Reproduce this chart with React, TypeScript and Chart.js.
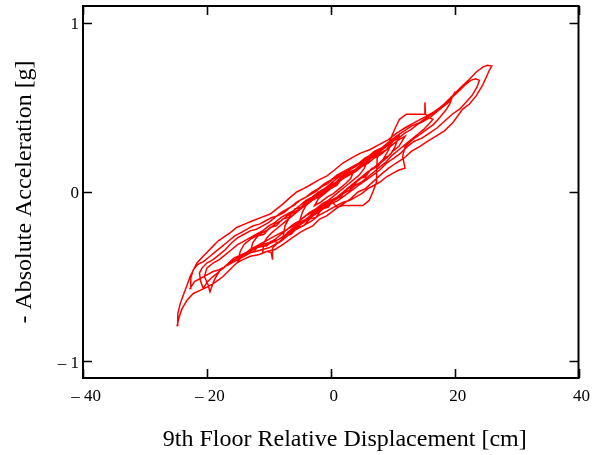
import React, { useEffect, useRef } from "react";
import { Chart, registerables } from "chart.js";

Chart.register(...registerables);

// Tick values
const xTickValues = [-40, -20, 0, 20, 40];
const yTickValues = [-1, 0, 1];

// Hysteresis path, [displacement cm, -absolute acceleration g], half-cycle by half-cycle
const segA: [number, number][] = [
  [0, 0.03], [1.2, 0.07], [2.3, 0.1], [3.5, 0.15], [4.6, 0.17], [5.8, 0.2], [7, 0.24], [8.2, 0.26],
  [9.5, 0.3], [10.6, 0.33], [11.8, 0.36], [13, 0.39], [14.3, 0.41], [15.5, 0.44], [17, 0.48], [18.3, 0.52],
  [19.7, 0.57], [21, 0.62], [22.2, 0.66], [23.5, 0.71], [24.6, 0.74], [25.3, 0.75], [26, 0.745],
];
const segB: [number, number][] = [
  [25.6, 0.72], [25, 0.67], [24.5, 0.63], [23.5, 0.57], [22.4, 0.52], [21.3, 0.49], [19.7, 0.41],
  [18.3, 0.36], [17, 0.33], [15.6, 0.3], [14.4, 0.27], [13, 0.24], [11.8, 0.2], [10.5, 0.17], [9.3, 0.14],
  [8, 0.1], [6.8, 0.06], [5.6, 0.02], [4.4, 0.0], [3.2, -0.04], [2, -0.07], [0.8, -0.1], [-0.6, -0.14],
  [-1.8, -0.16], [-2.9, -0.2], [-4, -0.22], [-5, -0.24], [-6.2, -0.27], [-7.7, -0.31], [-9, -0.34],
  [-10.2, -0.35], [-11.5, -0.37], [-13, -0.38], [-14.2, -0.4], [-15.2, -0.42], [-16.3, -0.46],
  [-17.4, -0.5], [-18.5, -0.53], [-19.8, -0.56], [-21, -0.58], [-22.2, -0.6], [-23.2, -0.64],
  [-24, -0.69], [-24.4, -0.73], [-24.8, -0.79],
];
const segC: [number, number][] = [
  [-24.7, -0.72], [-24.3, -0.66], [-23.9, -0.62], [-23.3, -0.56], [-22.7, -0.5], [-21.6, -0.42],
  [-20.6, -0.38], [-19.8, -0.35], [-19, -0.32], [-18.2, -0.29], [-17.4, -0.27], [-16.2, -0.24],
  [-15.2, -0.21], [-13.9, -0.19], [-12.6, -0.17], [-11.2, -0.15], [-9.8, -0.13], [-8.7, -0.1],
  [-7.7, -0.07], [-6.5, -0.03], [-5.5, 0.0], [-4.4, 0.02], [-3.4, 0.04], [-2, 0.07], [-0.6, 0.095],
  [0.6, 0.13], [1.9, 0.17], [3.3, 0.2], [4.8, 0.23], [6.3, 0.25], [7.8, 0.28], [9.3, 0.31], [10.7, 0.35],
  [12, 0.38], [13.5, 0.41], [15, 0.44], [16.5, 0.47], [18, 0.51], [19.3, 0.55], [20.5, 0.59],
  [21.6, 0.63], [22.6, 0.66], [23.4, 0.67], [24, 0.66],
];
const segD: [number, number][] = [
  [23.6, 0.62], [22.8, 0.57], [21.8, 0.53], [20.8, 0.49], [19.6, 0.46], [18.4, 0.42], [17.2, 0.38],
  [16, 0.35], [14.8, 0.32], [13.5, 0.3], [12.4, 0.27], [11.3, 0.23], [10.2, 0.2], [9, 0.17], [7.9, 0.13],
  [6.8, 0.1], [5.7, 0.07], [4.5, 0.04], [3.4, 0.01], [2.3, -0.02], [1.2, -0.05], [0, -0.07], [-1.2, -0.1],
  [-2.4, -0.13], [-3.6, -0.16], [-4.8, -0.19], [-6, -0.22], [-7.2, -0.25], [-8.4, -0.28], [-9.6, -0.3],
  [-10.8, -0.32], [-12, -0.33], [-13.2, -0.35], [-14.4, -0.37], [-15.6, -0.39], [-16.8, -0.43],
  [-18, -0.47], [-19, -0.5], [-19.9, -0.53], [-20.6, -0.57],
];
const segE: [number, number][] = [
  [-21, -0.53], [-21.2, -0.48], [-20.8, -0.45], [-20, -0.42], [-19, -0.4], [-18, -0.37], [-17, -0.34],
  [-16, -0.3], [-15, -0.27], [-14, -0.25], [-13, -0.23], [-12, -0.22], [-11, -0.2], [-10, -0.18],
  [-9, -0.15], [-8, -0.12], [-7, -0.1], [-6, -0.08], [-5, -0.05], [-4, -0.03], [-3, 0.0], [-2, 0.02],
  [-1, 0.05], [0, 0.07], [1, 0.1], [2, 0.12], [3, 0.14], [4, 0.16], [5, 0.18], [6, 0.2], [7, 0.22],
  [8, 0.24], [9, 0.27], [10, 0.3], [11, 0.32], [12, 0.35], [13, 0.37], [14, 0.4], [15, 0.42], [16, 0.44],
  [17, 0.47], [18, 0.5], [19, 0.53], [19.7, 0.57],
];
const segF: [number, number][] = [
  [19.2, 0.52], [18.5, 0.48], [17.6, 0.44], [16.6, 0.4], [15.5, 0.37], [14.4, 0.34], [13.2, 0.31],
  [12, 0.27], [11.6, 0.21], [12, 0.14], [11, 0.13], [10, 0.11], [9, 0.09], [8, 0.06], [7, 0.04], [6, 0.02],
  [5, -0.01], [4, -0.03], [3, -0.05], [2, -0.06], [1, -0.08], [0, -0.1], [-1, -0.12], [-2, -0.14],
  [-3, -0.17], [-4, -0.19], [-5, -0.21], [-6, -0.23], [-7, -0.26], [-8, -0.29], [-9, -0.31], [-10, -0.33],
  [-11, -0.34], [-12, -0.35], [-13, -0.36], [-14, -0.38], [-15, -0.4], [-16, -0.42], [-17, -0.44],
  [-18, -0.46], [-19, -0.47], [-20, -0.49], [-21, -0.51], [-22, -0.53], [-22.7, -0.57],
];
const segG: [number, number][] = [
  [-22.6, -0.51], [-22.2, -0.46], [-21.5, -0.43], [-20.5, -0.41], [-19.5, -0.38], [-18.5, -0.35],
  [-17.5, -0.32], [-16.5, -0.29], [-15.5, -0.26], [-14.5, -0.24], [-13.5, -0.22], [-12.5, -0.2],
  [-11.5, -0.19], [-10.5, -0.17], [-9.5, -0.15], [-8.5, -0.14], [-7.5, -0.12], [-6.5, -0.09],
  [-5.5, -0.06], [-4.5, -0.04], [-3.5, -0.02], [-2.5, 0.0], [-1.5, 0.03], [-0.5, 0.05], [0.5, 0.08],
  [1.5, 0.1], [2.5, 0.12], [3.5, 0.14], [4.5, 0.17], [5.5, 0.2], [6.5, 0.22], [7.5, 0.24], [8.5, 0.26],
  [9.5, 0.3], [10.3, 0.37], [11.1, 0.43], [12.2, 0.46], [13.3, 0.46], [14.4, 0.46], [15.2, 0.46],
  [15.2, 0.53], [15.3, 0.46], [15.8, 0.44], [16.5, 0.43],
];
const segH: [number, number][] = [
  [15.8, 0.4], [15, 0.37], [14, 0.34], [13, 0.31], [12, 0.28], [11, 0.25], [10, 0.22], [9, 0.18],
  [8, 0.15], [7, 0.12], [6, 0.09], [5, 0.06], [4, 0.04], [3, 0.01], [2, -0.01], [1, -0.04], [0, -0.06],
  [-1, -0.08], [-2, -0.11], [-3, -0.13], [-4, -0.16], [-5, -0.18], [-6, -0.2], [-7, -0.22], [-8, -0.25],
  [-9, -0.28], [-10, -0.3], [-11, -0.31], [-12, -0.33], [-13, -0.35], [-14, -0.37], [-15, -0.39],
  [-16, -0.41], [-17, -0.44], [-18, -0.47], [-18.8, -0.52], [-19.5, -0.59],
];
const segI: [number, number][] = [
  [-19.8, -0.55], [-20.4, -0.5], [-20, -0.45], [-19, -0.42], [-18, -0.4], [-17, -0.37], [-16, -0.34],
  [-15, -0.31], [-14, -0.29], [-13, -0.27], [-12, -0.25], [-11, -0.23], [-10, -0.2], [-9, -0.18],
  [-8, -0.15], [-7, -0.13], [-6, -0.11], [-5, -0.08], [-4, -0.05], [-3, -0.03], [-2, 0.0], [-1, 0.02],
  [0, 0.04], [1, 0.06], [2, 0.09], [3, 0.11], [4, 0.13], [5, 0.16], [6, 0.19], [7, 0.21], [8, 0.23],
  [9, 0.25], [10, 0.28], [11, 0.31], [12, 0.33],
];
const segJ: [number, number][] = [
  [11, 0.27], [10, 0.24], [9, 0.2], [8, 0.17], [7, 0.14], [6, 0.12], [5, 0.09], [4, 0.06], [3, 0.03],
  [2, 0.0], [1, -0.03], [0, -0.05], [-1, -0.07], [-2, -0.1], [-3, -0.12], [-4, -0.14], [-5, -0.17],
  [-6, -0.19], [-7, -0.22], [-8, -0.24], [-9, -0.26], [-10, -0.28], [-11, -0.3], [-12, -0.32],
  [-13, -0.34], [-14, -0.37], [-15, -0.41],
];
const segK: [number, number][] = [
  [-14.6, -0.35], [-14, -0.31], [-13, -0.28], [-12, -0.26], [-11, -0.24], [-10, -0.22], [-9, -0.19],
  [-8, -0.17], [-7, -0.14], [-6, -0.12], [-5, -0.1], [-4, -0.07], [-3, -0.04], [-2, -0.02], [-1, 0.01],
  [0, 0.03], [1, 0.05], [2, 0.08], [3, 0.1], [4, 0.12], [5, 0.15], [6, 0.17], [7, 0.2], [8, 0.22],
  [9, 0.25], [10, 0.3],
];
const segL: [number, number][] = [
  [9.2, 0.24], [8.4, 0.19], [7.5, 0.16], [6.5, 0.13], [5.5, 0.1], [4.5, 0.07], [3.5, 0.04], [2.5, 0.01],
  [1.5, -0.02], [0.5, -0.05], [-0.5, -0.08], [-1.5, -0.1], [-2.5, -0.13], [-3.5, -0.15], [-4.5, -0.18],
  [-5.5, -0.21], [-6.5, -0.24], [-7.5, -0.27], [-8.5, -0.3], [-9.4, -0.33], [-9.4, -0.4], [-9.6, -0.36],
  [-10.3, -0.35], [-11, -0.36],
];
const segM: [number, number][] = [
  [-10.8, -0.3], [-10.3, -0.27], [-9.5, -0.24], [-8.5, -0.21], [-7.5, -0.18], [-6.5, -0.15],
  [-5.5, -0.12], [-4.5, -0.09], [-3.5, -0.06], [-2.5, -0.03], [-1.5, -0.01], [-0.5, 0.02], [0.5, 0.05],
  [1.5, 0.07], [2.5, 0.1], [3.5, 0.12], [4.5, 0.15], [5.5, 0.17], [6.5, 0.2], [7.3, 0.23], [8, 0.25],
];
const segN: [number, number][] = [
  [7.5, 0.2], [7.4, 0.12], [7.4, 0.06], [6.8, 0.0], [6.2, -0.05], [5.2, -0.08], [4, -0.08], [3, -0.08],
  [2, -0.08], [1, -0.09], [0.3, -0.06], [-0.6, -0.08], [-1.8, -0.1], [-3, -0.13], [-4, -0.16],
  [-5, -0.19], [-6, -0.21], [-7, -0.24], [-7.7, -0.27],
];
const segO: [number, number][] = [
  [-7.4, -0.2], [-6.8, -0.16], [-6, -0.13], [-5, -0.1], [-4, -0.07], [-3, -0.04], [-2, -0.01], [-1, 0.02],
  [0, 0.05], [1, 0.08], [2, 0.1], [3, 0.13], [4, 0.15], [5, 0.18], [6, 0.19], [5.4, 0.14], [4.6, 0.1],
  [3.6, 0.07], [2.6, 0.04], [1.6, 0.01], [0.6, -0.02], [-0.4, -0.05], [-1.4, -0.07], [-2.4, -0.1],
  [-3.4, -0.12], [-4.4, -0.15], [-5, -0.17], [-4.6, -0.12], [-4, -0.08], [-3, -0.05], [-2, -0.03],
  [-1, 0.0], [0, 0.03], [1, 0.06], [2, 0.08], [3, 0.11], [3.8, 0.13], [3.2, 0.08], [2.4, 0.05],
  [1.4, 0.02], [0.4, -0.01], [-0.6, -0.03], [-1.6, -0.06], [-2.6, -0.08], [-2, -0.04], [-1, -0.01],
  [0, 0.02], [1, 0.04],
];
const segP: [number, number][] = [
  [2, 0.09], [3, 0.12], [4, 0.13], [5, 0.17], [6, 0.18], [7, 0.22], [8, 0.25], [9, 0.27], [10, 0.31],
  [11, 0.33], [10.4, 0.27], [9.6, 0.22], [8.6, 0.2], [7.6, 0.15], [6.6, 0.14], [5.6, 0.09], [4.6, 0.08],
  [3.6, 0.03], [2.6, 0.02], [1.6, -0.03], [0.6, -0.04], [-0.4, -0.09], [-1.4, -0.1], [-2.4, -0.15],
  [-3.4, -0.16], [-4.4, -0.2], [-5.4, -0.21], [-6.4, -0.25], [-7.4, -0.26], [-8.4, -0.3], [-9.4, -0.29],
  [-10.4, -0.32], [-11.4, -0.31], [-12.4, -0.35], [-13, -0.36], [-12.6, -0.3], [-11.8, -0.26],
  [-10.8, -0.25], [-9.8, -0.21], [-8.8, -0.2], [-7.8, -0.16], [-6.8, -0.15], [-5.8, -0.1], [-4.8, -0.09],
  [-3.8, -0.05], [-2.8, -0.04], [-1.8, 0.0], [-0.8, 0.01], [0.2, 0.05], [1.2, 0.06], [2.2, 0.1], [3, 0.11],
];

const segments = [segA, segB, segC, segD, segE, segF, segG, segH, segI, segJ, segK, segL, segM, segN, segO, segP];

const xTitle = "9th Floor Relative Displacement [cm]";
const yTitle = "- Absolute Acceleration [g]";
const serif = "'Liberation Serif', 'Times New Roman', serif";

const fmt = (v: number) => (v < 0 ? "\u2013 " + Math.abs(v) : String(v));

const framePlugin = {
  id: "frameTicks",
  afterDraw(chart: any) {
    const { ctx, chartArea } = chart;
    const { left, right, top, bottom } = chartArea;
    const xs = chart.scales.x;
    const ys = chart.scales.y;
    ctx.save();
    ctx.strokeStyle = "#000";
    ctx.lineWidth = 1.6;
    xTickValues.forEach((v) => {
      const px = Math.round(xs.getPixelForValue(v)) + 0.5;
      ctx.beginPath();
      ctx.moveTo(px, bottom);
      ctx.lineTo(px, bottom - 9);
      ctx.moveTo(px, top);
      ctx.lineTo(px, top + 9);
      ctx.stroke();
    });
    yTickValues.forEach((v) => {
      const py = Math.round(ys.getPixelForValue(v)) + 0.5;
      ctx.beginPath();
      ctx.moveTo(left, py);
      ctx.lineTo(left + 9, py);
      ctx.moveTo(right, py);
      ctx.lineTo(right - 9, py);
      ctx.stroke();
    });
    ctx.lineWidth = 2;
    ctx.strokeRect(left, top, right - left, bottom - top);
    // x-axis title, sitting slightly right of the plot centre as in the original
    ctx.fillStyle = "#000";
    ctx.font = "24px " + serif;
    ctx.textAlign = "center";
    ctx.textBaseline = "middle";
    ctx.fillText(xTitle, (left + right) / 2 + 14, 440);
    ctx.restore();
  },
};

export default function App() {
  const ref = useRef<HTMLCanvasElement | null>(null);
  useEffect(() => {
    if (!ref.current) return;
    const data = segments.flat().map(([x, y]) => ({ x, y }));
    const chart = new Chart(ref.current, {
      type: "scatter",
      data: {
        datasets: [
          {
            data,
            showLine: true,
            borderColor: "#ff0000",
            borderWidth: 1.5,
            pointRadius: 0,
            tension: 0,
            fill: false,
          },
        ],
      },
      options: {
        animation: false,
        responsive: false,
        maintainAspectRatio: false,
        layout: { padding: { top: 6, right: 16, left: 0, bottom: 0 } },
        plugins: { legend: { display: false }, tooltip: { enabled: false } },
        scales: {
          x: {
            type: "linear",
            min: -40,
            max: 40,
            grid: { display: false, drawTicks: false },
            border: { display: false },
            afterBuildTicks: (s: any) => {
              s.ticks = xTickValues.map((v) => ({ value: v }));
            },
            afterFit: (s: any) => {
              s.height = 77;
            },
            ticks: {
              color: "#000",
              padding: 8,
              labelOffset: 3,
              maxRotation: 0,
              font: { family: serif, size: 17 },
              callback: (v: any) => fmt(Number(v)),
            },
            title: { display: false, text: xTitle },
          },
          y: {
            type: "linear",
            min: -1.1,
            max: 1.1,
            grid: { display: false, drawTicks: false },
            border: { display: false },
            afterBuildTicks: (s: any) => {
              s.ticks = yTickValues.map((v) => ({ value: v }));
            },
            afterFit: (s: any) => {
              s.width = 83;
              s.paddingTop = 0;
              s.paddingBottom = 0;
            },
            ticks: {
              color: "#000",
              padding: 4,
              labelOffset: 2,
              font: { family: serif, size: 17 },
              callback: (v: any) => fmt(Number(v)),
            },
            title: {
              display: true,
              text: yTitle,
              color: "#000",
              font: { family: serif, size: 24 },
              padding: { top: 10, bottom: 0 },
            },
          },
        },
      },
      plugins: [framePlugin],
    });
    return () => chart.destroy();
  }, []);
  return (
    <div style={{ position: "fixed", left: 0, top: 0, width: 595, height: 455, background: "#fff" }}>
      <canvas ref={ref} width={595} height={455} style={{ display: "block" }} />
    </div>
  );
}
